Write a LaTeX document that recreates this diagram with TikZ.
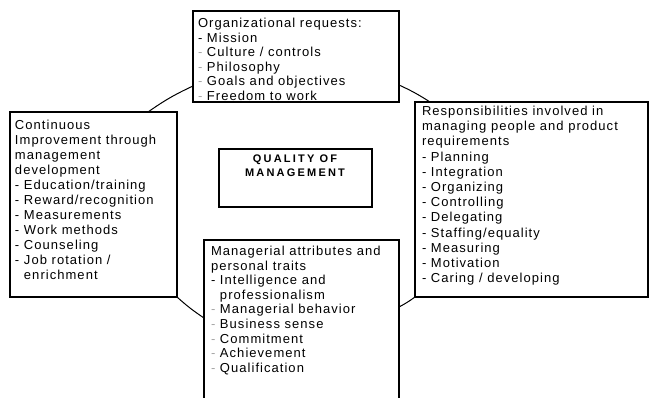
\documentclass[tikz,border=0pt]{standalone}
\usepackage{fontspec}
\setmainfont{Liberation Sans}
\newfontfamily\bodyfont[LetterSpace=8]{Liberation Sans}
\newfontfamily\titlefont[LetterSpace=20]{Liberation Sans}
\newcommand{\gd}{\textcolor{black!35}{-}}
\begin{document}
\begin{tikzpicture}[x=1pt,y=-1pt,
  box/.style={draw=black, line width=1.4pt, inner sep=0pt, outer sep=0pt, anchor=north west},
  txt/.style={inner sep=0pt, outer sep=0pt, anchor=north west, align=left, text=black,
              font=\bodyfont\fontsize{13}{14.6}\selectfont},
  txtl/.style={txt, font=\bodyfont\fontsize{13}{15}\selectfont},
  txtr/.style={txt, font=\bodyfont\fontsize{13}{15.2}\selectfont},
  ttl/.style={inner sep=0pt, outer sep=0pt, anchor=north, align=center, text=black,
              font=\titlefont\bfseries\fontsize{11}{14}\selectfont},
  conn/.style={line width=1pt, draw=black}]
\useasboundingbox (0,0) rectangle (651,398);
\clip (0,0) rectangle (651,398);

% boxes
\node[box, minimum width=206pt, minimum height=91pt]  (org)  at (193,11)  {};
\node[box, minimum width=167pt, minimum height=185pt] (cont) at (10,112)  {};
\node[box, minimum width=233pt, minimum height=195pt] (resp) at (415,102) {};
\node[box, minimum width=195pt, minimum height=200pt] (mgr)  at (204,240) {};
\node[box, minimum width=153pt, minimum height=58pt]  (qual) at (219,149) {};

% texts
\node[txt] (orgtxt) at (198,17.3) {\strut Organizational requests:\\
- Mission\\
\gd{} Culture / controls\\
\gd{}  Philosophy\\
\gd{} Goals and objectives\\
\gd{} Freedom to work};

\node[txtl] (conttxt) at (15,119) {\strut Continuous\\
Improvement through\\
management\\
development\\
- Education/training\\
- Reward/recognition\\
- Measurements\\
- Work methods\\
- Counseling\\
- Job rotation /\\
\phantom{- }enrichment};

\node[txtr] (resptxt) at (422,104.9) {\strut Responsibilities involved in\\
managing people and product\\
requirements\\
- Planning\\
- Integration\\
- Organizing\\
- Controlling\\
- Delegating\\
- Staffing/equality\\
- Measuring\\
- Motivation\\
- Caring / developing};

\node[txt] (mgrtxt) at (211,245.3) {\strut Managerial attributes and\\
personal traits\\
- Intelligence and\\
\phantom{- }professionalism\\
\gd{} Managerial behavior\\
\gd{} Business sense\\
\gd{} Commitment\\
\gd{} Achievement\\
\gd{} Qualification};

\node[ttl] (qualtxt) at (295,153.2) {\strut QUALITY OF\\MANAGEMENT};

% connectors
\draw[conn] ([yshift=16pt]org.south west) to[bend right=5] ([xshift=-29pt]cont.north east);
\draw[conn] ([yshift=17pt]org.south east) to[bend left=4] ([xshift=15pt]resp.north west);
\draw[conn] (resp.south west) to[bend left=4] ([yshift=-67pt]mgr.north east);
\draw[conn] (cont.south east) to[bend right=4] ([yshift=-78pt]mgr.north west);
\end{tikzpicture}
\end{document}
